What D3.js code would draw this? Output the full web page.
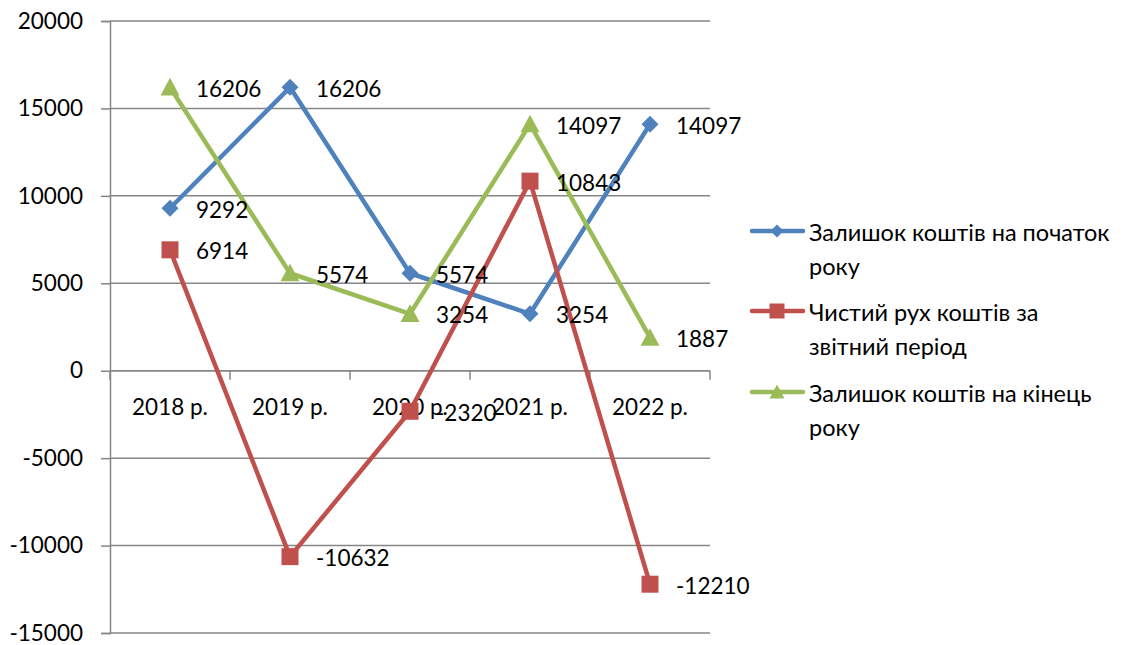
<!DOCTYPE html>
<html>
<head>
<meta charset="utf-8">
<script src="https://cdn.jsdelivr.net/npm/d3@7"></script>
<style>
  html, body { margin: 0; padding: 0; background: #fff; }
  svg { display: block; font-family: Lato, "Open Sans", sans-serif; }
</style>
</head>
<body>
<svg id="chart" width="1128" height="645"></svg>
<script>
// Categories (years) and series values
const categories = ["2018 р.", "2019 р.", "2020 р.", "2021 р.", "2022 р."];
const openingBalance = [9292, 16206, 5574, 3254, 14097];
const netCashFlow = [6914, -10632, -2320, 10843, -12210];
const closingBalance = [16206, 5574, 3254, 14097, 1887];
const yTicks = [-15000, -10000, -5000, 0, 5000, 10000, 15000, 20000];

const seriesNames = [
  ["Залишок коштів на початок", "року"],
  ["Чистий рух коштів за", "звітний період"],
  ["Залишок коштів на кінець", "року"]
];

const series = [
  { values: openingBalance, color: "#4F81BD", symbol: "diamond", name: seriesNames[0] },
  { values: netCashFlow, color: "#C0504D", symbol: "square", name: seriesNames[1] },
  { values: closingBalance, color: "#9BBB59", symbol: "triangle", name: seriesNames[2] }
];

const svg = d3.select("#chart");
const plotLeft = 110, plotRight = 710, plotTop = 21, plotBottom = 633;
const fontSize = 22.5;
const fmt = d => String(d); // plain hyphen-minus for negatives

const x = d3.scaleBand().domain(categories).range([plotLeft, plotRight]).padding(0);
const y = d3.scaleLinear().domain([-15000, 20000]).range([plotBottom, plotTop]);
const cx = c => x(c) + x.bandwidth() / 2;

// Horizontal gridlines
svg.append("g").selectAll("line").data(yTicks).join("line")
  .attr("x1", plotLeft).attr("x2", plotRight)
  .attr("y1", d => y(d)).attr("y2", d => y(d))
  .attr("stroke", "#868686").attr("stroke-width", 1.5);

// Value axis
const yAxis = svg.append("g").attr("transform", `translate(${plotLeft},0)`)
  .call(d3.axisLeft(y).tickValues(yTicks).tickSize(9).tickPadding(18).tickFormat(fmt));
yAxis.select(".domain").attr("stroke", "#868686").attr("stroke-width", 1.5);
yAxis.selectAll(".tick line").attr("stroke", "#868686").attr("stroke-width", 1.5);
yAxis.selectAll(".tick text").attr("font-size", fontSize).attr("fill", "#000")
  .attr("font-family", "Lato, sans-serif");

// Category axis at zero
const xAxisG = svg.append("g").attr("transform", `translate(0,${y(0)})`);
xAxisG.append("line").attr("x1", plotLeft).attr("x2", plotRight)
  .attr("stroke", "#868686").attr("stroke-width", 1.5);
const edges = categories.map(c => x(c)).concat([plotRight]);
xAxisG.selectAll("line.edge").data(edges).join("line").attr("class", "edge")
  .attr("x1", d => d).attr("x2", d => d).attr("y1", 0).attr("y2", 9)
  .attr("stroke", "#868686").attr("stroke-width", 1.5);
xAxisG.selectAll("text").data(categories).join("text")
  .attr("x", d => cx(d)).attr("y", 36)
  .attr("text-anchor", "middle").attr("dominant-baseline", "central")
  .attr("font-size", fontSize).text(d => d);

function marker(g, type, color, size) {
  const h = size / 2;
  let p;
  if (type === "diamond") {
    p = `M0,${-h}L${h},0L0,${h}L${-h},0Z`;
  } else if (type === "square") {
    p = `M${-h},${-h}H${h}V${h}H${-h}Z`;
  } else {
    p = `M0,${-h}L${h},${h * 0.85}L${-h},${h * 0.85}Z`;
  }
  return g.append("path").attr("d", p).attr("fill", color);
}

const line = d3.line().x((d, i) => cx(categories[i])).y(d => y(d));
const markerSize = { diamond: 17, square: 17, triangle: 19 };

series.forEach(s => {
  const g = svg.append("g");
  g.append("path").datum(s.values).attr("d", line)
    .attr("fill", "none").attr("stroke", s.color).attr("stroke-width", 4.5)
    .attr("stroke-linejoin", "round");
  s.values.forEach((v, i) => {
    const m = g.append("g").attr("transform", `translate(${cx(categories[i])},${y(v)})`);
    marker(m, s.symbol, s.color, markerSize[s.symbol]);
  });
});

// Data labels on top of all lines
series.forEach(s => {
  svg.append("g").selectAll("text").data(s.values).join("text")
    .attr("x", (d, i) => cx(categories[i]) + 26)
    .attr("y", d => y(d) + 1)
    .attr("dominant-baseline", "central")
    .attr("font-size", fontSize).attr("fill", "#000")
    .text(fmt);
});

// Legend
const legendRows = [231, 311, 392];
series.forEach((s, k) => {
  const g = svg.append("g").attr("transform", `translate(0,${legendRows[k]})`);
  g.append("line").attr("x1", 752).attr("x2", 803).attr("y1", 0).attr("y2", 0)
    .attr("stroke", s.color).attr("stroke-width", 4.5).attr("stroke-linecap", "round");
  const m = g.append("g").attr("transform", "translate(777,0)");
  marker(m, s.symbol, s.color, s.symbol === "diamond" ? 13 : 15);
  s.name.forEach((t, j) => {
    g.append("text").attr("x", 809).attr("y", 1 + j * 34)
      .attr("dominant-baseline", "central")
      .attr("font-size", 23.5).attr("fill", "#000").text(t);
  });
});
</script>
</body>
</html>
